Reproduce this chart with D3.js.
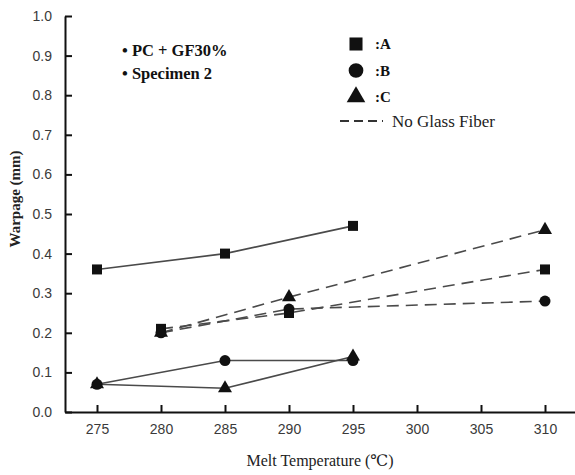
<!DOCTYPE html>
<html>
<head>
<meta charset="utf-8">
<script src="https://cdn.jsdelivr.net/npm/d3@7"></script>
<style>
  html, body { margin: 0; padding: 0; background: #fff; }
  svg { display: block; }
</style>
</head>
<body>
<div id="chart"></div>
<script>
// melt temperatures and warpage readings (mm)
const tempsGF = [275, 285, 295];
const tempsNoGF = [280, 290, 310];
const seriesNames = ['A', 'B', 'C'];
const warpGF_A = [0.36, 0.40, 0.47];
const warpGF_B = [0.07, 0.13, 0.13];
const warpGF_C = [0.07, 0.06, 0.14];
const warpNoGF_A = [0.21, 0.25, 0.36];
const warpNoGF_B = [0.20, 0.26, 0.28];
const warpNoGF_C = [0.20, 0.29, 0.46];
const xTicks = [275, 280, 285, 290, 295, 300, 305, 310];
const yTicks = [0, 0.1, 0.2, 0.3, 0.4, 0.5, 0.6, 0.7, 0.8, 0.9, 1.0];

const width = 575, height = 475;
const svg = d3.select('#chart').append('svg')
  .attr('width', width)
  .attr('height', height);

const x = d3.scaleLinear().domain([272.5, 312.5]).range([65, 577]);
const y = d3.scaleLinear().domain([0, 1]).range([412, 16]);

const ink = '#111';
const lineColor = '#4a4a4a';
const serif = '"Liberation Serif", "DejaVu Serif", serif';
const sans = '"Liberation Sans", Arial, sans-serif';

// axes (ticks point inward)
svg.append('g')
  .attr('transform', `translate(0,${y(0)})`)
  .call(d3.axisBottom(x).tickValues(xTicks).tickSize(-7).tickSizeOuter(0).tickPadding(12))
  .call(g => g.select('.domain').attr('stroke', ink).attr('stroke-width', 2))
  .call(g => g.selectAll('.tick line').attr('stroke', ink).attr('stroke-width', 2))
  .call(g => g.selectAll('.tick text')
    .attr('fill', '#3a3a3a')
    .attr('font-family', sans)
    .attr('font-size', '14px'));

svg.append('g')
  .attr('transform', `translate(${x(272.5)},0)`)
  .call(d3.axisLeft(y).tickValues(yTicks).tickFormat(d3.format('.1f')).tickSize(-7).tickSizeOuter(0).tickPadding(13))
  .call(g => g.select('.domain').attr('stroke', ink).attr('stroke-width', 2))
  .call(g => g.selectAll('.tick line').attr('stroke', ink).attr('stroke-width', 2))
  .call(g => g.selectAll('.tick text')
    .attr('fill', '#3a3a3a')
    .attr('font-family', sans)
    .attr('font-size', '14px'));

// axis titles
svg.append('text')
  .attr('x', 320)
  .attr('y', 466)
  .attr('text-anchor', 'middle')
  .attr('font-family', serif)
  .attr('font-size', '16px')
  .attr('fill', '#222')
  .text('Melt Temperature (℃)');

svg.append('text')
  .attr('transform', 'translate(20,199) rotate(-90)')
  .attr('text-anchor', 'middle')
  .attr('font-family', serif)
  .attr('font-weight', 'bold')
  .attr('font-size', '15px')
  .attr('fill', '#222')
  .text('Warpage (mm)');

// lines
const line = d3.line().x(d => x(d.t)).y(d => y(d.v));
const shapes = { A: d3.symbolSquare, B: d3.symbolCircle, C: d3.symbolTriangle };
const sizes = { A: 100, B: 95, C: 85 };

const groups = [
  { temps: tempsGF, vals: [warpGF_A, warpGF_B, warpGF_C], dash: null },
  { temps: tempsNoGF, vals: [warpNoGF_A, warpNoGF_B, warpNoGF_C], dash: '12,7' }
];

groups.forEach(grp => {
  grp.vals.forEach(vals => {
    const pts = grp.temps.map((t, i) => ({ t, v: vals[i] }));
    svg.append('path')
      .datum(pts)
      .attr('fill', 'none')
      .attr('stroke', lineColor)
      .attr('stroke-width', 1.6)
      .attr('stroke-dasharray', grp.dash)
      .attr('d', line);
  });
});

groups.forEach(grp => {
  grp.vals.forEach((vals, si) => {
    const name = seriesNames[si];
    const pts = grp.temps.map((t, i) => ({ t, v: vals[i] }));
    svg.selectAll(null)
      .data(pts)
      .enter()
      .append('path')
      .attr('transform', d => `translate(${x(d.t)},${y(d.v)})`)
      .attr('d', d3.symbol().type(shapes[name]).size(sizes[name]))
      .attr('fill', ink);
  });
});

// notes
const notes = ['• PC + GF30%', '• Specimen 2'];
svg.selectAll(null)
  .data(notes)
  .enter()
  .append('text')
  .attr('x', 122)
  .attr('y', (d, i) => 56 + i * 23)
  .attr('font-family', serif)
  .attr('font-weight', 'bold')
  .attr('font-size', '16.5px')
  .attr('fill', ink)
  .text(d => d);

// legend
const legend = svg.append('g');
seriesNames.forEach((name, i) => {
  const ly = 44 + i * 26.5;
  legend.append('path')
    .attr('transform', `translate(356,${ly})`)
    .attr('d', d3.symbol().type(shapes[name]).size(name === 'C' ? 150 : 170))
    .attr('fill', ink);
  legend.append('text')
    .attr('x', 375)
    .attr('y', ly + 5)
    .attr('font-family', serif)
    .attr('font-weight', 'bold')
    .attr('font-size', '15px')
    .attr('fill', ink)
    .text(':' + name);
});
legend.append('line')
  .attr('x1', 340).attr('x2', 383)
  .attr('y1', 121).attr('y2', 121)
  .attr('stroke', '#333')
  .attr('stroke-width', 2.2)
  .attr('stroke-dasharray', '9,5');
legend.append('text')
  .attr('x', 392)
  .attr('y', 127)
  .attr('font-family', serif)
  .attr('font-size', '17px')
  .attr('fill', '#222')
  .text('No Glass Fiber');
</script>
</body>
</html>
